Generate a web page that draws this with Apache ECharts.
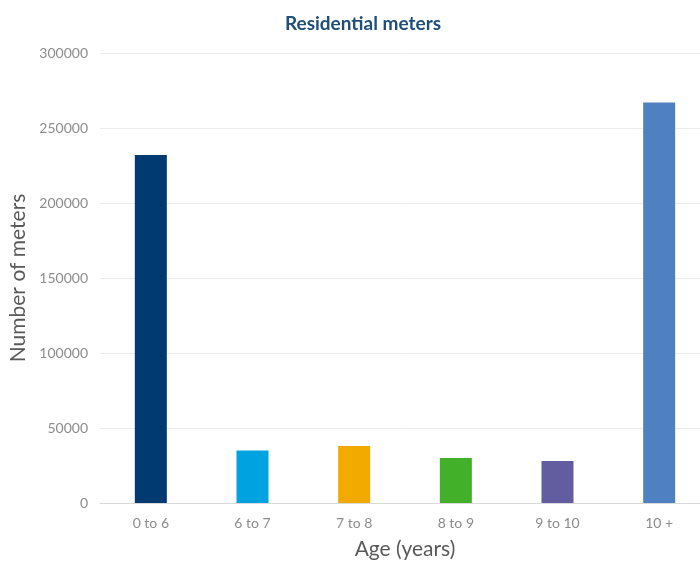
<!DOCTYPE html>
<html><head><meta charset="utf-8">
<script src="https://cdn.jsdelivr.net/npm/echarts@6/dist/echarts.min.js"></script>
<style>html,body{margin:0;padding:0;background:#fff}#c{width:700px;height:561px}</style>
</head><body><div id="c"></div>
<script>
const categories = ['0 to 6', '6 to 7', '7 to 8', '8 to 9', '9 to 10', '10 +'];
const meters = [232000, 35000, 38000, 30000, 28000, 267000];
const barColors = ['#003a70', '#00a3e0', '#f2a900', '#43b02a', '#625ca0', '#4f81c2'];
const yTicks = [0, 50000, 100000, 150000, 200000, 250000, 300000];

const chart = echarts.init(document.getElementById('c'), null, {renderer: 'canvas'});
const font = 'Lato, "Open Sans", sans-serif';
chart.setOption({
  animation: false,
  title: {
    text: 'Residential meters', left: 358, top: 9, textAlign: 'center',
    textStyle: {fontFamily: font, fontWeight: 'bold', fontSize: 19, color: '#1f4e79'}
  },
  grid: {left: 100, width: 610, top: 53, bottom: 58, outerBoundsMode: 'none', containLabel: false},
  xAxis: {
    type: 'category', data: categories,
    name: 'Age (years)', nameLocation: 'middle', nameGap: 36,
    nameTextStyle: {fontFamily: font, fontSize: 21, color: '#595959'},
    axisLine: {lineStyle: {color: '#d9d9d9', width: 1}},
    axisTick: {show: false},
    axisLabel: {fontFamily: font, fontSize: 14, color: '#8c8c8c', margin: 13},
    splitLine: {show: false}
  },
  yAxis: {
    type: 'value', min: yTicks[0], max: yTicks[yTicks.length - 1], interval: 50000,
    name: 'Number of meters', nameLocation: 'middle', nameGap: 65,
    nameTextStyle: {fontFamily: font, fontSize: 21, color: '#595959'},
    axisLine: {show: false}, axisTick: {show: false},
    axisLabel: {fontFamily: font, fontSize: 14, color: '#8c8c8c', margin: 12, formatter: v => String(v)},
    splitLine: {lineStyle: {color: '#ececec', width: 1}}
  },
  series: [{
    type: 'bar', barWidth: 32,
    data: meters.map((v, i) => ({value: v, itemStyle: {color: barColors[i]}}))
  }]
});
</script></body></html>
